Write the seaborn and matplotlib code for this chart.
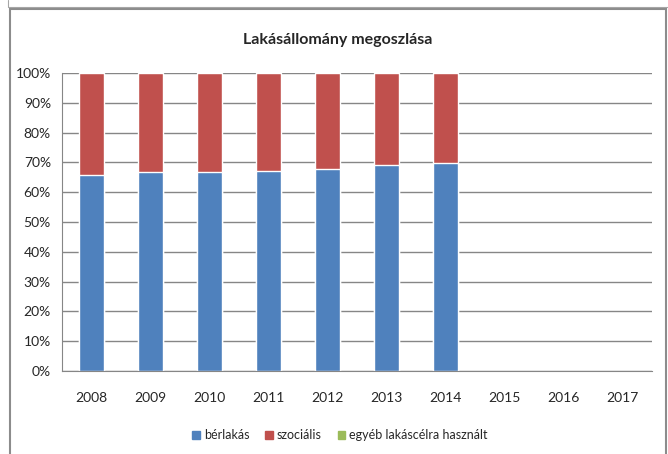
import numpy as np
import pandas as pd
import seaborn as sns
import matplotlib.pyplot as plt
from matplotlib.patches import Patch, Rectangle
from matplotlib.lines import Line2D

# adatok
evek = ['2008', '2009', '2010', '2011', '2012', '2013', '2014', '2015', '2016', '2017']
berlakas = [65.8, 66.7, 66.7, 67.0, 67.8, 69.1, 69.7, np.nan, np.nan, np.nan]
szocialis = [34.2, 33.3, 33.3, 33.0, 32.2, 30.9, 30.3, np.nan, np.nan, np.nan]
egyeb = [0, 0, 0, 0, 0, 0, 0, np.nan, np.nan, np.nan]

kek, piros, zold = '#4F81BD', '#C0504D', '#9BBB59'

df = pd.DataFrame({'ev': evek, 'berlakas': berlakas,
                   'szocialis': szocialis, 'egyeb': egyeb})
df['felso'] = df['berlakas'] + df['szocialis'] + df['egyeb']

sns.set_style('white')
plt.rcParams['font.family'] = ['Lato', 'DejaVu Sans']

W, H = 668, 454
fig = plt.figure(figsize=(W / 100, H / 100), dpi=100)
ax = fig.add_axes([62 / W, 1 - 371 / H, 590 / W, 298 / H])

# külső keret
fig.patches.append(Rectangle((10 / W, -0.05), 656 / W, 1 - 9 / H + 0.05,
                             transform=fig.transFigure, fill=False,
                             edgecolor='#8c8c8c', linewidth=1.5))
fig.lines.append(Line2D([8 / W, 8 / W, 1], [1, 1 - 7 / H, 1 - 7 / H],
                        transform=fig.transFigure, color='#a6a6a6', linewidth=0.8))

sns.barplot(data=df, x='ev', y='felso', order=evek, color=piros,
            width=0.41, saturation=1, ax=ax, errorbar=None)
sns.barplot(data=df, x='ev', y='berlakas', order=evek, color=kek,
            width=0.41, saturation=1, ax=ax, errorbar=None)

ax.set_ylim(0, 100)
ax.set_xlim(-0.5, len(evek) - 0.5)
ax.set_yticks(range(0, 101, 10))
ax.set_yticklabels([f'{v}%' for v in range(0, 101, 10)], fontsize=10)
ax.set_xticks(range(len(evek)))
ax.set_xticklabels(evek, fontsize=10)
ax.set_xticks(np.arange(-0.5, len(evek), 1), minor=True)
ax.tick_params(axis='x', which='major', length=0, pad=15)
ax.tick_params(axis='x', which='minor', length=5, color='#868686', direction='out')
ax.tick_params(axis='y', length=5, color='#868686', direction='out', pad=3)
ax.set_xlabel('')
ax.set_ylabel('')

ax.grid(axis='y', color='#868686', linewidth=1)
ax.set_axisbelow(True)
for s in ['top', 'right']:
    ax.spines[s].set_visible(False)
ax.spines['left'].set_color('#868686')
ax.spines['bottom'].set_color('#868686')

fig.text(0.505, 1 - 40 / H, 'Lakásállomány megoszlása', ha='center', va='center',
         fontsize=11.5, fontweight='bold')

handles = [Patch(color=kek, label='bérlakás'),
           Patch(color=piros, label='szociális'),
           Patch(color=zold, label='egyéb lakáscélra használt')]
fig.legend(handles=handles, loc='center', bbox_to_anchor=(340 / W, 1 - 435 / H),
           ncol=3, frameon=False, fontsize=9, handlelength=0.6,
           handleheight=0.6, handletextpad=0.3, columnspacing=1.3)

fig.savefig('out.png', dpi=100)
